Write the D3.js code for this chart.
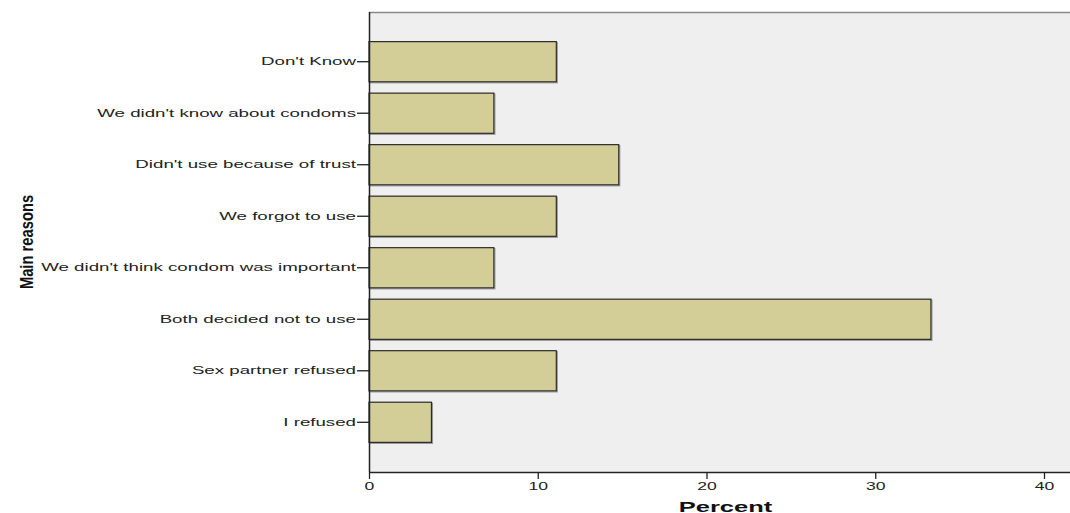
<!DOCTYPE html>
<html lang="en">
<head>
<meta charset="UTF-8">
<title>Main reasons</title>
<script src="https://d3js.org/d3.v7.min.js"></script>
<style>
  body { margin: 0; background: #fff; }
  svg { display: block; }
</style>
</head>
<body>
<script>
// reasons for not using a condom, top to bottom
const reasons = [
  "Don't Know",
  "We didn't know about condoms",
  "Didn't use because of trust",
  "We forgot to use",
  "We didn't think condom was important",
  "Both decided not to use",
  "Sex partner refused",
  "I refused"
];
const percents = [11.1, 7.4, 14.8, 11.1, 7.4, 33.3, 11.1, 3.7];
const xTicks = [0, 10, 20, 30, 40];

const width = 1070, height = 513;
const plotLeft = 369, plotTop = 12, plotBottom = 472;
// the original uses a stretched Arial-like face
const font = "Liberation Sans, Arial, sans-serif";

const svg = d3.select("body").append("svg")
    .attr("width", width)
    .attr("height", height);

const x = d3.scaleLinear()
    .domain([0, 40])
    .range([plotLeft, 1044]);

const y = d3.scaleBand()
    .domain(reasons)
    .range([plotTop, plotBottom])
    .paddingInner(0.22)
    .paddingOuter(0.575);

// plot background
svg.append("rect")
    .attr("x", plotLeft)
    .attr("y", plotTop)
    .attr("width", width - plotLeft)
    .attr("height", plotBottom - plotTop)
    .attr("fill", "#efefef");

svg.append("line")
    .attr("x1", plotLeft).attr("x2", width)
    .attr("y1", plotTop + 0.5).attr("y2", plotTop + 0.5)
    .attr("stroke", "#8a8a8a")
    .attr("stroke-width", 1.5);

// bars, with a soft gray shadow line like the original
const bars = svg.append("g");
bars.selectAll("rect.shadow")
    .data(percents)
    .join("rect")
    .attr("class", "shadow")
    .attr("x", x(0) + 1)
    .attr("y", (d, i) => y(reasons[i]) + 1)
    .attr("width", d => x(d) - x(0))
    .attr("height", y.bandwidth())
    .attr("fill", "none")
    .attr("stroke", "#9a9a9a")
    .attr("stroke-width", 1.2);

bars.selectAll("rect.bar")
    .data(percents)
    .join("rect")
    .attr("class", "bar")
    .attr("x", x(0))
    .attr("y", (d, i) => y(reasons[i]))
    .attr("width", d => x(d) - x(0))
    .attr("height", y.bandwidth())
    .attr("fill", "#d3ce97")
    .attr("stroke", "#2b2b2b")
    .attr("stroke-width", 1.2);

// y axis
const yAxis = svg.append("g")
    .attr("transform", `translate(${plotLeft},0)`)
    .call(d3.axisLeft(y).tickSize(12).tickPadding(2).tickSizeOuter(0));
yAxis.select(".domain").attr("stroke", "#222").attr("stroke-width", 1.5)
    .attr("d", `M0.5,${plotTop}V${plotBottom}`);
yAxis.selectAll(".tick line").attr("stroke", "#222").attr("stroke-width", 1.3);
yAxis.selectAll(".tick text")
    .attr("x", 0)
    .attr("transform", "translate(-13,0) scale(1.7,1)")
    .attr("font-family", font)
    .attr("font-size", 11)
    .attr("fill", "#222");

// x axis
const xAxis = svg.append("g")
    .attr("transform", `translate(0,${plotBottom})`)
    .call(d3.axisBottom(x).tickValues(xTicks).tickSize(7).tickPadding(3).tickSizeOuter(0));
xAxis.select(".domain").attr("stroke", "#222").attr("stroke-width", 1.5)
    .attr("d", `M${plotLeft},0.5H${width}`);
xAxis.selectAll(".tick line").attr("stroke", "#222").attr("stroke-width", 1.3);
xAxis.selectAll(".tick text")
    .attr("y", 0)
    .attr("dy", 0)
    .attr("transform", "translate(0,18) scale(1.6,1)")
    .attr("font-family", font)
    .attr("font-size", 11)
    .attr("fill", "#222");

// axis titles
svg.append("text")
    .attr("transform", "translate(725.5,512) scale(1.7,1)")
    .attr("text-anchor", "middle")
    .attr("font-family", font)
    .attr("font-weight", "bold")
    .attr("font-size", 15)
    .attr("fill", "#111")
    .text("Percent");

svg.append("text")
    .attr("transform", "translate(33,242) rotate(-90) scale(0.82,1)")
    .attr("text-anchor", "middle")
    .attr("font-family", font)
    .attr("font-weight", "bold")
    .attr("font-size", 18)
    .attr("fill", "#111")
    .text("Main reasons");
</script>
</body>
</html>
